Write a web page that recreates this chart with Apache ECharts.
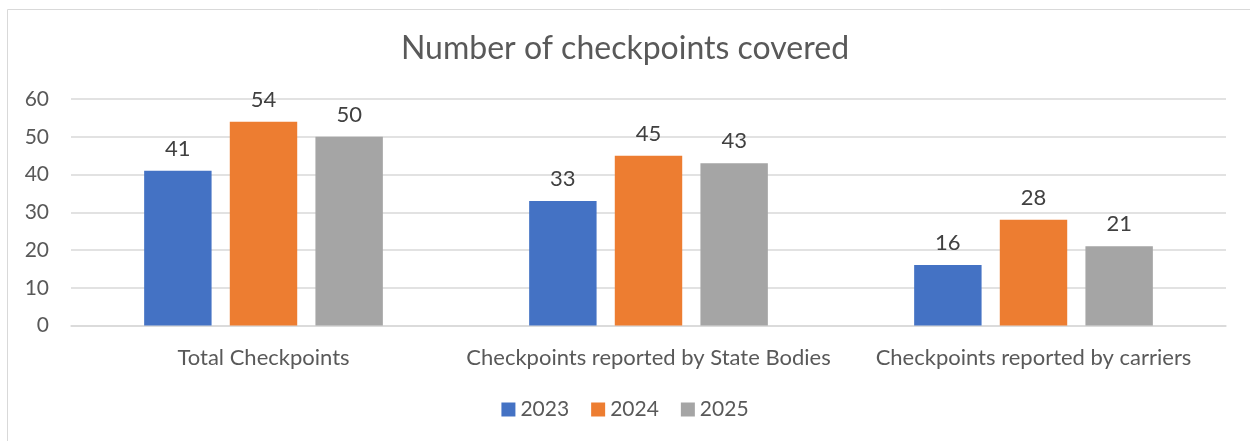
<!DOCTYPE html>
<html><head><meta charset="utf-8">
<script src="https://cdn.jsdelivr.net/npm/echarts@6/dist/echarts.min.js"></script>
<style>html,body{margin:0;padding:0;background:#fff}#c{width:1250px;height:441px}</style>
</head><body><div id="c"></div>
<script>
const categories = ["Total Checkpoints", "Checkpoints reported by State Bodies", "Checkpoints reported by carriers"];
const seriesNames = ["2023", "2024", "2025"];
const values2023 = [41, 33, 16];
const values2024 = [54, 45, 28];
const values2025 = [50, 43, 21];
const colors = ["#4472C4", "#ED7D31", "#A5A5A5"];
const font = "Lato, 'Open Sans', sans-serif";
const chart = echarts.init(document.getElementById('c'), null, {renderer: 'canvas'});
const allValues = [values2023, values2024, values2025];
chart.setOption({
  animation: false,
  textStyle: {fontFamily: font},
  graphic: [{type: 'rect', shape: {x: 7.5, y: 9.5, width: 1260, height: 460}, style: {fill: 'none', stroke: '#d9d9d9', lineWidth: 1}}],
  title: {text: 'Number of checkpoints covered', left: 'center', top: 28,
    textStyle: {fontFamily: font, fontSize: 32, fontWeight: 'normal', color: '#595959'}},
  legend: {bottom: 16, left: 'center', itemWidth: 14, itemHeight: 14, itemGap: 22, icon: 'rect',
    textStyle: {fontFamily: font, fontSize: 21, color: '#595959'}, data: seriesNames},
  grid: {left: 71, right: 24, top: 99, bottom: 115.5},
  xAxis: {type: 'category', data: categories,
    axisLine: {lineStyle: {color: '#d9d9d9', width: 1.5}}, axisTick: {show: false},
    axisLabel: {interval: 0, hideOverlap: false, fontFamily: font, fontSize: 22, color: '#595959', margin: 21}},
  yAxis: {type: 'value', min: 0, max: 60, interval: 10,
    axisLine: {show: false}, axisTick: {show: false},
    splitLine: {lineStyle: {color: '#d9d9d9', width: 1.5}},
    axisLabel: {fontFamily: font, fontSize: 21, color: '#595959', margin: 22}},
  series: seriesNames.map((n, i) => ({
    name: n, type: 'bar', data: allValues[i], barGap: '27%', barCategoryGap: '38%',
    itemStyle: {color: colors[i]},
    label: {show: true, position: 'top', distance: 11, fontFamily: font, fontSize: 22, color: '#404040'}
  }))
});
</script></body></html>
